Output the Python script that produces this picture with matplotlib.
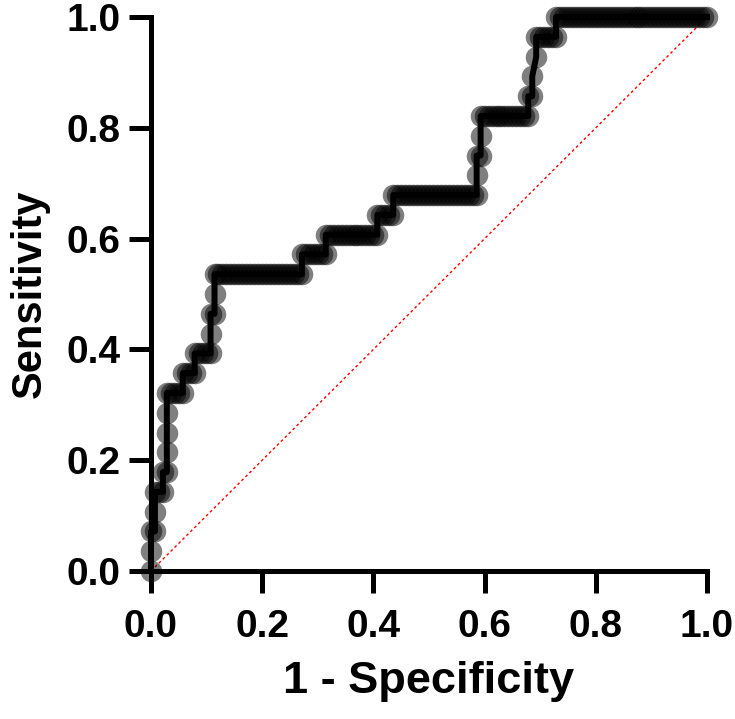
import matplotlib.pyplot as plt

plt.rcParams["font.family"] = ["Liberation Sans", "DejaVu Sans"]
plt.rcParams["font.weight"] = "bold"

# ROC points: counts of false positives (of 140 negatives)
# and true positives (of 28 positives), one entry per threshold.
N_NEG = 140
N_POS = 28
FP = [
    0, 0, 0, 1, 1, 1, 2, 3, 3, 4, 4, 4, 4, 4, 5, 6, 7, 8, 8, 9,
    10, 11, 11, 12, 13, 14, 15, 15, 15, 16, 16, 16,
    17, 18, 19, 20, 21, 22, 23, 24, 25, 26, 27, 28, 29, 30, 31, 32, 33, 34,
    35, 36, 37, 38, 38, 39, 40, 41, 42, 43, 44, 44,
    45, 46, 47, 48, 49, 50, 51, 52, 53, 54, 55, 56, 57, 57, 58, 59, 60, 61, 61,
    62, 63, 64, 65, 66, 67, 68, 69, 70, 71, 72, 73, 74, 75, 76, 77, 78, 79, 80,
    81, 82, 82, 82, 83, 83, 83,
    84, 85, 86, 87, 88, 89, 90, 91, 92, 93, 94, 95, 95, 96, 96, 97, 97,
    98, 99, 100, 101, 102, 102,
    103, 104, 105, 106, 107, 108, 109, 110, 111, 112, 113, 114, 115, 116, 117,
    118, 119, 120, 121, 122, 123, 124, 125, 126, 127, 128, 129, 130, 131, 132,
    133, 134, 135, 136, 137, 138, 139, 140,
]
TP = [
    0, 1, 2, 2, 3, 4, 4, 4, 5, 5, 6, 7, 8, 9, 9, 9, 9, 9, 10, 10,
    10, 10, 11, 11, 11, 11, 11, 12, 13, 13, 14, 15,
    15, 15, 15, 15, 15, 15, 15, 15, 15, 15, 15, 15, 15, 15, 15, 15, 15, 15,
    15, 15, 15, 15, 16, 16, 16, 16, 16, 16, 16, 17,
    17, 17, 17, 17, 17, 17, 17, 17, 17, 17, 17, 17, 17, 18, 18, 18, 18, 18, 19,
    19, 19, 19, 19, 19, 19, 19, 19, 19, 19, 19, 19, 19, 19, 19, 19, 19, 19, 19,
    19, 19, 20, 21, 21, 22, 23,
    23, 23, 23, 23, 23, 23, 23, 23, 23, 23, 23, 23, 24, 24, 25, 26, 27,
    27, 27, 27, 27, 27, 28,
    28, 28, 28, 28, 28, 28, 28, 28, 28, 28, 28, 28, 28, 28, 28,
    28, 28, 28, 28, 28, 28, 28, 28, 28, 28, 28, 28, 28, 28, 28,
    28, 28, 28, 28, 28, 28, 28, 28,
]
TICKS = [0.0, 0.2, 0.4, 0.6, 0.8, 1.0]
TICK_LABELS = ["0.0", "0.2", "0.4", "0.6", "0.8", "1.0"]


def main() -> None:
    x = [v / N_NEG for v in FP]
    y = [v / N_POS for v in TP]

    fig = plt.figure(figsize=(7.35, 7.19), dpi=100)
    ax = fig.add_axes([0.2054, 0.2058, 0.7565, 0.7705])

    ax.plot([0, 1], [0, 1], color="red", linewidth=1.0, linestyle=(0, (2, 2)), zorder=1)
    ax.plot(x, y, linestyle="none", marker="o", markersize=15.5, color="black",
            alpha=0.5, markeredgewidth=0, clip_on=False, zorder=2)
    ax.plot(x, y, color="black", linewidth=4.3, clip_on=False, zorder=3)

    ax.set_xlim(0, 1)
    ax.set_ylim(0, 1)
    ax.set_xticks(TICKS, TICK_LABELS)
    ax.set_yticks(TICKS, TICK_LABELS)
    for side in ("top", "right"):
        ax.spines[side].set_visible(False)
    for side in ("left", "bottom"):
        ax.spines[side].set_linewidth(3.6)
    ax.tick_params(length=16, width=3.6, labelsize=28)
    ax.tick_params(axis="x", pad=11)
    ax.tick_params(axis="y", pad=6)

    ax.set_xlabel("1 - Specificity", fontsize=32.5, fontweight="bold", labelpad=12)
    ax.set_ylabel("Sensitivity", fontsize=30, fontweight="bold", labelpad=12)

    fig.savefig("out.png", dpi=100)


if __name__ == "__main__":
    main()
